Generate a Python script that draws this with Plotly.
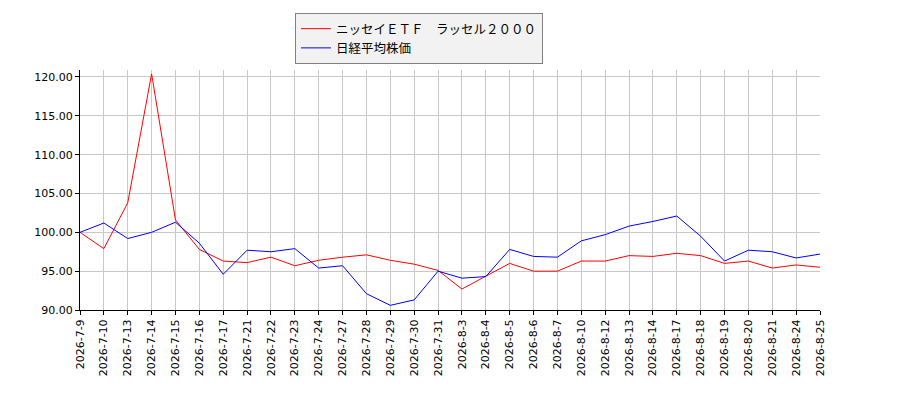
import plotly.graph_objects as go

dates = ['2026-7-9', '2026-7-10', '2026-7-13', '2026-7-14', '2026-7-15', '2026-7-16',
         '2026-7-17', '2026-7-21', '2026-7-22', '2026-7-23', '2026-7-24', '2026-7-27',
         '2026-7-28', '2026-7-29', '2026-7-30', '2026-7-31', '2026-8-3', '2026-8-4',
         '2026-8-5', '2026-8-6', '2026-8-7', '2026-8-10', '2026-8-12', '2026-8-13',
         '2026-8-14', '2026-8-17', '2026-8-18', '2026-8-19', '2026-8-20', '2026-8-21',
         '2026-8-24', '2026-8-25']

etf = [100.0, 97.9, 103.8, 120.4, 101.6, 97.8, 96.3, 96.1, 96.8, 95.7, 96.4, 96.8,
       97.1, 96.4, 95.9, 95.1, 92.7, 94.3, 96.0, 95.0, 95.0, 96.3, 96.3, 97.0,
       96.9, 97.3, 97.0, 96.0, 96.3, 95.4, 95.8, 95.5]

nikkei = [100.0, 101.2, 99.2, 100.0, 101.3, 98.6, 94.6, 97.7, 97.5, 97.9, 95.4, 95.7,
          92.1, 90.6, 91.3, 95.0, 94.1, 94.3, 97.8, 96.9, 96.8, 98.9, 99.7, 100.8,
          101.4, 102.1, 99.5, 96.3, 97.7, 97.5, 96.7, 97.2]

fig = go.Figure()
fig.add_trace(go.Scatter(x=dates, y=etf, mode='lines',
                         name='ニッセイＥＴＦ　ラッセル２０００',
                         line=dict(color='red', width=1)))
fig.add_trace(go.Scatter(x=dates, y=nikkei, mode='lines',
                         name='日経平均株価',
                         line=dict(color='blue', width=1)))

# page body has an 8px margin, so the margins are offset by that much
fig.update_layout(
    width=900, height=400,
    plot_bgcolor='white', paper_bgcolor='white',
    margin=dict(l=72, r=88, t=62, b=98, autoexpand=False),
    font=dict(family='DejaVu Sans, Noto Sans CJK JP', size=11, color='black'),
    showlegend=True,
    legend=dict(x=0.2905, y=1.2375, xanchor='left', yanchor='top',
                bgcolor='#f2f2f2', bordercolor='#808080', borderwidth=1,
                font=dict(size=12.5, family='Noto Sans CJK JP'),
                tracegroupgap=0),
    xaxis=dict(type='category', range=[0, len(dates) - 1], automargin=False,
               showgrid=True, gridcolor='#c8c8c8', gridwidth=1,
               showline=True, linecolor='black', linewidth=1,
               ticks='outside', ticklen=4, tickcolor='black',
               tickangle=-90, tickfont=dict(size=11)),
    yaxis=dict(range=[90, 120.9], dtick=5, tickformat='.2f', automargin=False,
               showgrid=True, gridcolor='#c8c8c8', gridwidth=1,
               showline=True, linecolor='black', linewidth=1,
               ticks='outside', ticklen=4, tickcolor='black',
               zeroline=False, tickfont=dict(size=11)),
)

fig.write_html("out.html")
